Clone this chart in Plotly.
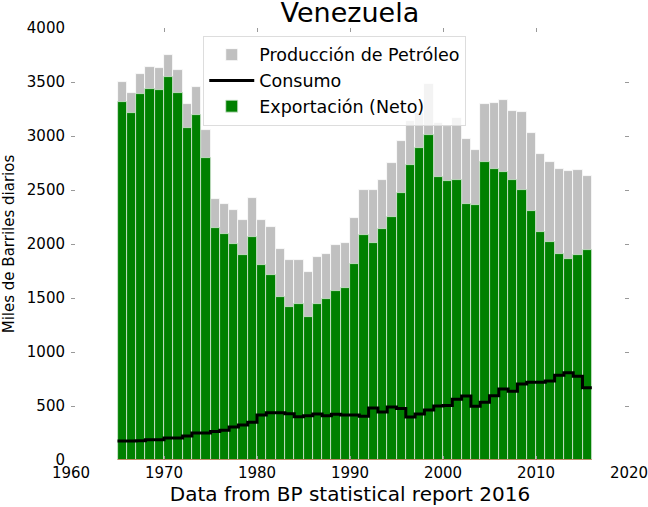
import plotly.graph_objects as go

# Venezuela, miles de barriles diarios (BP statistical report 2016)
years = list(range(1965, 2016))

produccion = [3500, 3398, 3574, 3636, 3627, 3753, 3611, 3296, 3454, 3056,
              2417, 2370, 2312, 2222, 2423, 2225, 2160, 1951, 1852, 1852,
              1741, 1883, 1907, 1994, 2012, 2241, 2500, 2497, 2590, 2750,
              2957, 3135, 3210, 3478, 3124, 3095, 3166, 2972, 2866, 3299,
              3305, 3333, 3231, 3219, 3028, 2833, 2756, 2698, 2676, 2682,
              2627]

consumo = [176, 176, 178, 188, 188, 204, 204, 222, 250, 250,
           265, 275, 306, 324, 349, 417, 438, 438, 429, 401,
           410, 426, 410, 423, 417, 417, 404, 481, 444, 491,
           478, 398, 426, 463, 500, 505, 562, 593, 497, 534,
           596, 657, 636, 704, 719, 720, 731, 784, 809, 775,
           670]

exportacion = [3318, 3216, 3389, 3435, 3426, 3543, 3401, 3071, 3194, 2799,
               2145, 2090, 1997, 1895, 2068, 1802, 1713, 1509, 1414, 1441,
               1324, 1447, 1491, 1562, 1590, 1815, 2083, 2009, 2139, 2250,
               2472, 2730, 2886, 3006, 2617, 2585, 2596, 2370, 2360, 2756,
               2698, 2664, 2590, 2503, 2302, 2111, 2022, 1907, 1861, 1901,
               1947]

FONT = "DejaVu Sans"

fig = go.Figure()

fig.add_trace(go.Bar(
    x=years, y=produccion, offset=0, width=1,
    name="Producción de Petróleo", legendgroup="p",
    marker=dict(color="#c0c0c0", line=dict(color="white", width=0.8)),
    legendrank=1,
))
fig.add_trace(go.Bar(
    x=years, y=exportacion, offset=0, width=1,
    name="Exportación (Neto)", legendgroup="e",
    marker=dict(color="#008000", line=dict(color="#d8e8d8", width=0.8)),
    legendrank=3,
))
# step line, last year held until the next one
fig.add_trace(go.Scatter(
    x=years + [years[-1] + 1], y=consumo + [consumo[-1]],
    mode="lines", line=dict(color="black", width=3, shape="hv"),
    name="Consumo", legendgroup="c", legendrank=2,
))

fig.add_shape(type="line", x0=years[0], x1=years[-1] + 1, y0=0, y1=0,
              line=dict(color="#b83a10", width=1.2), layer="above")

axis_common = dict(
    showgrid=False, zeroline=False, showline=False, automargin=False,
    ticks="inside", ticklen=4, tickwidth=1, tickcolor="#999999",
    mirror="ticks", ticklabeloverflow="allow",
    tickfont=dict(family=FONT, size=15, color="black"),
)

fig.update_layout(
    width=648, height=507,
    margin=dict(l=71, r=19, t=28, b=47),
    paper_bgcolor="white", plot_bgcolor="white",
    barmode="overlay", bargap=0,
    font=dict(family=FONT, color="black"),
    title=dict(text="Venezuela", x=0.54, xanchor="center",
               y=0.975, yanchor="middle", yref="container",
               font=dict(family=FONT, size=27, color="black")),
    xaxis=dict(range=[1960, 2020], tickvals=list(range(1960, 2021, 10)),
               ticklabelstandoff=2,
               title=dict(text="Data from BP statistical report 2016",
                          font=dict(family=FONT, size=20), standoff=4),
               **axis_common),
    yaxis=dict(range=[0, 4000], tickvals=list(range(0, 4001, 500)),
               ticklabelstandoff=5,
               title=dict(text="Miles de Barriles diarios",
                          font=dict(family=FONT, size=15), standoff=8),
               **axis_common),
    legend=dict(x=0.237, y=0.982, xanchor="left", yanchor="top",
                bgcolor="rgba(255,255,255,0.8)", bordercolor="#dddddd",
                borderwidth=1, font=dict(family=FONT, size=17.5),
                itemwidth=45, tracegroupgap=0),
    showlegend=True,
)

# page body has a default 8px margin; drop it so the figure sits at 0,0
fig.write_html("out.html", config={"displayModeBar": False},
               post_script="document.body.style.margin='0';")
